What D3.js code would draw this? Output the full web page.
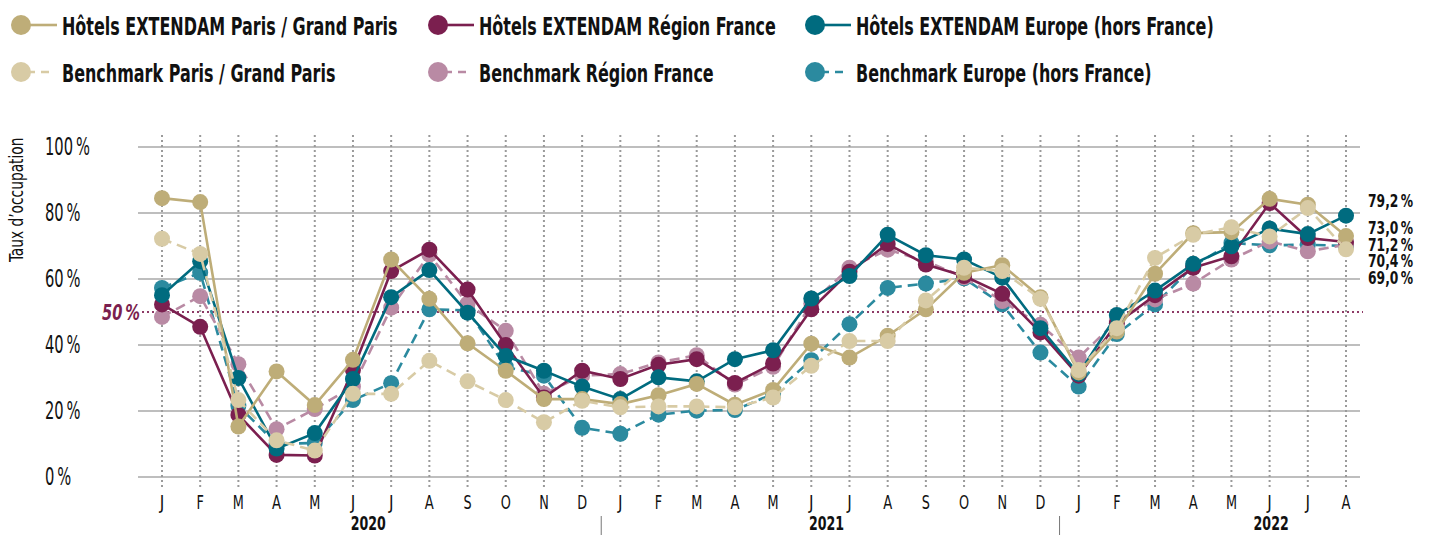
<!DOCTYPE html>
<html>
<head>
<meta charset="utf-8">
<script src="https://cdn.jsdelivr.net/npm/d3@7"></script>
<style>
  body { margin: 0; background: #fff; }
  svg { display: block; font-family: "DejaVu Sans Condensed", "Liberation Sans", "Roboto", sans-serif; }
</style>
</head>
<body>
<svg></svg>
<script>
const width = 1433, height = 535

// values (occupancy %, Jan 2020 -> Aug 2022)
const monthLetters = ["J","F","M","A","M","J","J","A","S","O","N","D"]
const years = ["2020", "2021", "2022"]
const yTicks = [0, 20, 40, 60, 80, 100]
const threshold = 50

const hotelsParis  = [84.5,83.3,15.3,32.0,21.8,35.5,65.9,54.0,40.5,32.2,23.6,23.6, 22.1,24.8,28.2,21.9,26.4,40.4,36.2,42.8,50.8,61.9,64.2,54.5, 31.7,44.1,61.6,73.9,74.2,84.3,82.5,73.0]
const benchParis   = [72.2,67.6,23.3,11.1,8.0,25.2,25.2,35.2,29.0,23.3,16.6,23.1, 21.1,21.4,21.4,21.1,24.1,33.7,41.2,41.2,53.5,63.4,62.4,54.0, 32.4,45.1,66.4,73.4,75.7,72.9,81.5,69.0]
const hotelsRegion = [52.3,45.5,18.8,6.7,6.5,32.4,62.4,68.9,56.8,40.0,24.1,32.2, 29.7,34.0,35.7,28.5,34.4,50.8,62.2,70.6,64.4,60.9,55.5,43.8, 30.7,46.5,55.1,63.4,66.9,83.0,72.4,71.2]
const benchRegion  = [48.5,54.8,34.2,14.5,20.6,27.4,51.3,67.4,52.5,44.3,25.2,30.7, 31.2,34.7,36.9,28.0,33.4,52.6,63.4,68.9,65.4,60.5,53.3,46.1, 36.2,47.3,53.8,58.6,65.9,71.4,68.4,70.4]
const hotelsEurope = [55.1,65.4,30.0,8.6,13.3,29.7,54.5,62.7,49.8,36.7,32.2,27.4, 23.6,30.2,29.0,35.7,38.4,54.1,60.9,73.4,67.2,65.9,60.4,45.1, 31.2,49.1,56.5,64.6,69.9,75.3,73.6,79.2]
const benchEurope  = [57.3,61.9,21.6,10.0,10.3,23.3,28.4,50.8,50.5,33.4,30.7,14.9, 13.1,18.9,20.1,20.3,25.2,35.4,46.3,57.3,58.6,60.2,52.3,37.7, 27.4,43.3,52.3,63.9,70.9,70.2,70.4,70.0]

const series = [
  {name: "Hôtels EXTENDAM Paris / Grand Paris", values: hotelsParis, color: "#bead78", dashed: false, label: true},
  {name: "Benchmark Paris / Grand Paris", values: benchParis, color: "#d8cba5", dashed: true, label: true},
  {name: "Hôtels EXTENDAM Région France", values: hotelsRegion, color: "#7b1f4f", dashed: false, label: true},
  {name: "Benchmark Région France", values: benchRegion, color: "#b98aa4", dashed: true, label: true},
  {name: "Hôtels EXTENDAM Europe (hors France)", values: hotelsEurope, color: "#006b7f", dashed: false, label: true},
  {name: "Benchmark Europe (hors France)", values: benchEurope, color: "#2b8a9f", dashed: true, label: false}
]
// order in which the lines are stacked (bottom first)
const drawOrder = [5, 3, 2, 4, 0, 1]

const nMonths = hotelsParis.length
const months = d3.range(nMonths)

const x = d3.scaleLinear().domain([0, nMonths - 1]).range([162, 1346])
const y = d3.scaleLinear().domain([0, 100]).range([477, 147])

const fr = d3.formatLocale({decimal: ",", thousands: " ", grouping: [3], currency: ["", " €"]})
const pct1 = v => fr.format(".1f")(v) + "\u2009%"

// squeeze text horizontally to mimic the narrow font of the original,
// keeping the anchor point (start / middle / end) where it was
const condense = k => sel => sel.each(function () {
  const t = d3.select(this)
  const anchor = t.attr("text-anchor") || "start"
  const b0 = this.getBBox()
  t.attr("textLength", b0.width * k).attr("lengthAdjust", "spacingAndGlyphs")
  const b1 = this.getBBox()
  const shift = anchor === "middle" ? (b0.x + b0.width / 2) - (b1.x + b1.width / 2)
    : anchor === "end" ? (b0.x + b0.width) - (b1.x + b1.width)
    : b0.x - b1.x
  if (Math.abs(shift) > 0.1) t.attr("dx", shift)
})

const svg = d3.select("svg").attr("width", width).attr("height", height)

// horizontal grid
svg.append("g")
  .selectAll("line")
  .data(yTicks)
  .join("line")
  .attr("x1", x(0) - 24).attr("x2", x(nMonths - 1) + 14)
  .attr("y1", d => y(d)).attr("y2", d => y(d))
  .attr("stroke", "#a9a9a9").attr("stroke-width", 1.6)

// vertical dotted month lines
svg.append("g")
  .selectAll("line")
  .data(months)
  .join("line")
  .attr("x1", d => x(d)).attr("x2", d => x(d))
  .attr("y1", y(100) - 12).attr("y2", y(0) + 13)
  .attr("stroke", "#9a9a9a").attr("stroke-width", 2)
  .attr("stroke-dasharray", "2,3")

// y tick labels
svg.append("g")
  .selectAll("text")
  .data(yTicks)
  .join("text")
  .attr("x", 45).attr("y", d => y(d))
  .attr("dy", "0.35em")
  .attr("font-size", 24)
  .attr("fill", "#111")
  .text(d => d + "\u2009%")
  .call(condense(0.68))

svg.append("text")
  .attr("transform", `translate(16,${y(84)}) rotate(-90)`)
  .attr("dy", "0.35em")
  .attr("text-anchor", "middle")
  .attr("font-size", 19)
  .attr("fill", "#111")
  .text("Taux d’occupation")
  .call(condense(0.8))

// 50% threshold
svg.append("line")
  .attr("x1", x(0) - 20).attr("x2", x(nMonths - 1) + 17)
  .attr("y1", y(threshold)).attr("y2", y(threshold))
  .attr("stroke", "#8e3a66").attr("stroke-width", 2)
  .attr("stroke-dasharray", "2,3")

svg.append("text")
  .attr("x", x(0) - 22).attr("y", y(threshold))
  .attr("dy", "0.35em")
  .attr("text-anchor", "end")
  .attr("font-size", 22).attr("font-weight", "bold").attr("font-style", "italic")
  .attr("fill", "#7b1f4f")
  .text(threshold + "\u2009%")
  .call(condense(0.74))

// month + year axis
svg.append("g")
  .selectAll("text")
  .data(months)
  .join("text")
  .attr("x", d => x(d)).attr("y", 502)
  .attr("dy", "0.35em")
  .attr("text-anchor", "middle")
  .attr("font-size", 19)
  .attr("fill", "#111")
  .text(d => monthLetters[d % 12])
  .call(condense(0.75))

years.forEach((yr, i) => {
  const first = i * 12
  const count = Math.min(12, nMonths - first)
  const mid = Math.min(5.4, (count - 1) * 0.72)
  svg.append("text")
    .attr("x", x(first + mid)).attr("y", 523)
    .attr("dy", "0.35em")
    .attr("text-anchor", "middle")
    .attr("font-size", 20).attr("font-weight", "bold")
    .attr("fill", "#111")
    .text(yr)
    .call(condense(0.7))
  if (i > 0) {
    svg.append("line")
      .attr("x1", x(first - 0.5)).attr("x2", x(first - 0.5))
      .attr("y1", 516).attr("y2", 537)
      .attr("stroke", "#777").attr("stroke-width", 1)
  }
})

// lines and dots
const line = d3.line().x((d, i) => x(i)).y(d => y(d))

const layers = svg.append("g")
  .selectAll("g")
  .data(drawOrder.map(i => series[i]))
  .join("g")

layers.append("path")
  .attr("d", d => line(d.values))
  .attr("fill", "none")
  .attr("stroke", d => d.color)
  .attr("stroke-width", 2.6)
  .attr("stroke-dasharray", d => d.dashed ? "10,6" : null)

layers.selectAll("circle")
  .data(d => d.values.map(v => ({v, color: d.color})))
  .join("circle")
  .attr("cx", (d, i) => x(i)).attr("cy", d => y(d.v))
  .attr("r", 8)
  .attr("fill", d => d.color)

// end labels, pushed apart so they don't collide
const ends = series.filter(s => s.label).map(s => s.values[nMonths - 1]).sort((a, b) => b - a)
let prevY = -Infinity
const endPos = ends.map((v, i) => {
  const yy = Math.max(y(v) - (i === 0 ? 15 : 8), prevY + 16.5)
  prevY = yy
  return {v, yy}
})
svg.append("g")
  .selectAll("text")
  .data(endPos)
  .join("text")
  .attr("x", 1368).attr("y", d => d.yy)
  .attr("dy", "0.35em")
  .attr("font-size", 18).attr("font-weight", "bold")
  .attr("fill", "#111")
  .text(d => pct1(d.v))
  .call(condense(0.76))

// legend: 3 columns x 2 rows
const legendCols = [21, 438, 815]
const legendRows = [25, 72]
const legend = svg.append("g")
  .selectAll("g")
  .data(series)
  .join("g")
  .attr("transform", (d, i) => `translate(${legendCols[Math.floor(i / 2)]},${legendRows[i % 2]})`)

legend.append("line")
  .attr("x1", 6).attr("x2", d => d.dashed ? 34 : 36)
  .attr("y1", 0).attr("y2", 0)
  .attr("stroke", d => d.color).attr("stroke-width", 2.6)
  .attr("stroke-dasharray", d => d.dashed ? "8,6" : null)

legend.append("circle")
  .attr("r", 10)
  .attr("fill", d => d.color)

legend.append("text")
  .attr("x", 41).attr("y", 1)
  .attr("dy", "0.35em")
  .attr("font-size", 25).attr("font-weight", "bold")
  .attr("fill", "#111")
  .text(d => d.name)
  .call(condense(0.71))
</script>
</body>
</html>
